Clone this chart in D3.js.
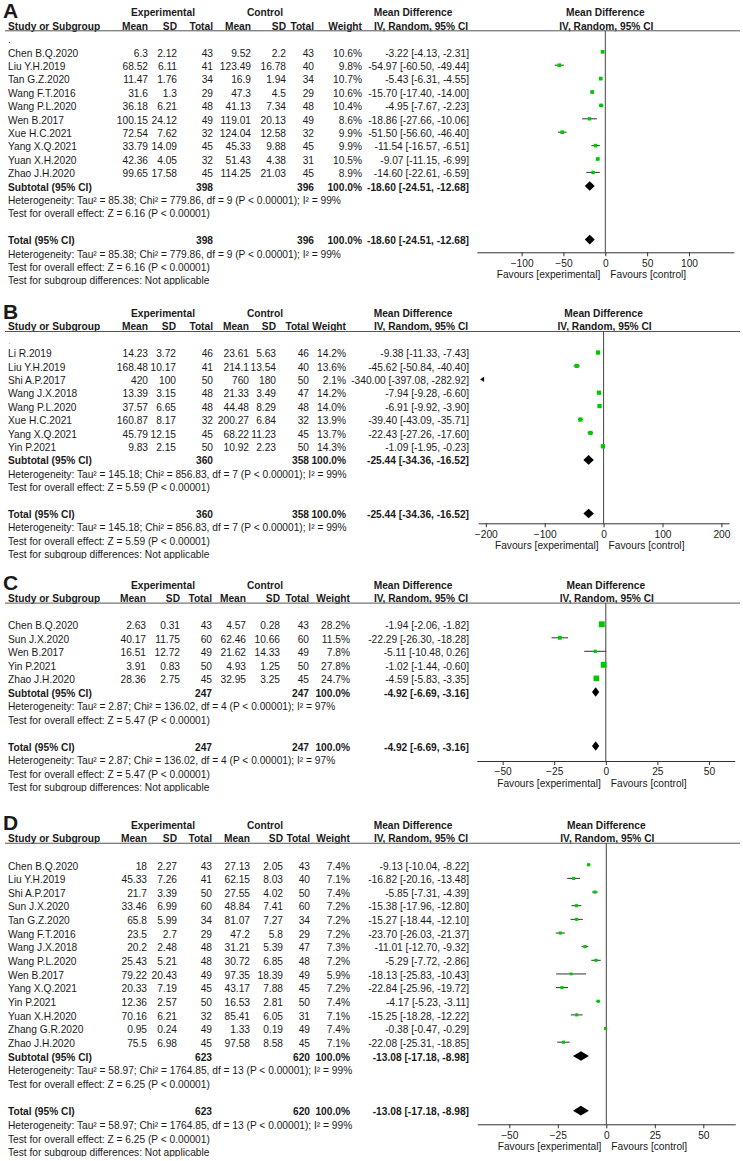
<!DOCTYPE html>
<html><head><meta charset="utf-8">
<script src="https://cdn.jsdelivr.net/npm/d3@7"></script>
<style>
body{margin:0;background:#fff}
svg{display:block}
text{font-family:"Liberation Sans",Arial,Helvetica,sans-serif;font-size:10.2px;fill:#1a1a1a}
</style>
</head><body>
<svg id="c" width="743" height="1161"></svg>
<script>
// ---------------- Panel A ----------------
const studiesA = ["Chen B.Q.2020","Liu Y.H.2019","Tan G.Z.2020","Wang F.T.2016","Wang P.L.2020","Wen B.2017","Xue H.C.2021","Yang X.Q.2021","Yuan X.H.2020","Zhao J.H.2020"];
const expMeanA = [6.3, 68.52, 11.47, 31.6, 36.18, 100.15, 72.54, 33.79, 42.36, 99.65];
const expSdA   = [2.12, 6.11, 1.76, 1.3, 6.21, 24.12, 7.62, 14.09, 4.05, 17.58];
const expNA    = [43, 41, 34, 29, 48, 49, 32, 45, 32, 45];
const ctlMeanA = [9.52, 123.49, 16.9, 47.3, 41.13, 119.01, 124.04, 45.33, 51.43, 114.25];
const ctlSdA   = [2.2, 16.78, 1.94, 4.5, 7.34, 20.13, 12.58, 9.88, 4.38, 21.03];
const ctlNA    = [43, 40, 34, 29, 48, 49, 32, 45, 31, 45];
const weightA  = [10.6, 9.8, 10.7, 10.6, 10.4, 8.6, 9.9, 9.9, 10.5, 8.9];
const mdA      = [-3.22, -54.97, -5.43, -15.70, -4.95, -18.86, -51.50, -11.54, -9.07, -14.60];
const loA      = [-4.13, -60.50, -6.31, -17.40, -7.67, -27.66, -56.60, -16.57, -11.15, -22.61];
const hiA      = [-2.31, -49.44, -4.55, -14.00, -2.23, -10.06, -46.40, -6.51, -6.99, -6.59];
const ticksA   = [-100, -50, 0, 50, 100];

// ---------------- Panel B ----------------
const studiesB = ["Li R.2019","Liu Y.H.2019","Shi A.P.2017","Wang J.X.2018","Wang P.L.2020","Xue H.C.2021","Yang X.Q.2021","Yin P.2021"];
const expMeanB = [14.23, 168.48, 420, 13.39, 37.57, 160.87, 45.79, 9.83];
const expSdB   = [3.72, 10.17, 100, 3.15, 6.65, 8.17, 12.15, 2.15];
const expNB    = [46, 41, 50, 48, 48, 32, 45, 50];
const ctlMeanB = [23.61, 214.1, 760, 21.33, 44.48, 200.27, 68.22, 10.92];
const ctlSdB   = [5.63, 13.54, 180, 3.49, 8.29, 6.84, 11.23, 2.23];
const ctlNB    = [46, 40, 50, 47, 48, 32, 45, 50];
const weightB  = [14.2, 13.6, 2.1, 14.2, 14.0, 13.9, 13.7, 14.3];
const mdB      = [-9.38, -45.62, -340.00, -7.94, -6.91, -39.40, -22.43, -1.09];
const loB      = [-11.33, -50.84, -397.08, -9.28, -9.92, -43.09, -27.26, -1.95];
const hiB      = [-7.43, -40.40, -282.92, -6.60, -3.90, -35.71, -17.60, -0.23];
const ticksB   = [-200, -100, 0, 100, 200];

// ---------------- Panel C ----------------
const studiesC = ["Chen B.Q.2020","Sun J.X.2020","Wen B.2017","Yin P.2021","Zhao J.H.2020"];
const expMeanC = [2.63, 40.17, 16.51, 3.91, 28.36];
const expSdC   = [0.31, 11.75, 12.72, 0.83, 2.75];
const expNC    = [43, 60, 49, 50, 45];
const ctlMeanC = [4.57, 62.46, 21.62, 4.93, 32.95];
const ctlSdC   = [0.28, 10.66, 14.33, 1.25, 3.25];
const ctlNC    = [43, 60, 49, 50, 45];
const weightC  = [28.2, 11.5, 7.8, 27.8, 24.7];
const mdC      = [-1.94, -22.29, -5.11, -1.02, -4.59];
const loC      = [-2.06, -26.30, -10.48, -1.44, -5.83];
const hiC      = [-1.82, -18.28, 0.26, -0.60, -3.35];
const ticksC   = [-50, -25, 0, 25, 50];

// ---------------- Panel D ----------------
const studiesD = ["Chen B.Q.2020","Liu Y.H.2019","Shi A.P.2017","Sun J.X.2020","Tan G.Z.2020","Wang F.T.2016","Wang J.X.2018","Wang P.L.2020","Wen B.2017","Yang X.Q.2021","Yin P.2021","Yuan X.H.2020","Zhang G.R.2020","Zhao J.H.2020"];
const expMeanD = [18, 45.33, 21.7, 33.46, 65.8, 23.5, 20.2, 25.43, 79.22, 20.33, 12.36, 70.16, 0.95, 75.5];
const expSdD   = [2.27, 7.26, 3.39, 6.99, 5.99, 2.7, 2.48, 5.21, 20.43, 7.19, 2.57, 6.21, 0.24, 6.98];
const expND    = [43, 41, 50, 60, 34, 29, 48, 48, 49, 45, 50, 32, 49, 45];
const ctlMeanD = [27.13, 62.15, 27.55, 48.84, 81.07, 47.2, 31.21, 30.72, 97.35, 43.17, 16.53, 85.41, 1.33, 97.58];
const ctlSdD   = [2.05, 8.03, 4.02, 7.41, 7.27, 5.8, 5.39, 6.85, 18.39, 7.88, 2.81, 6.05, 0.19, 8.58];
const ctlND    = [43, 40, 50, 60, 34, 29, 47, 48, 49, 45, 50, 31, 49, 45];
const weightD  = [7.4, 7.1, 7.4, 7.2, 7.2, 7.2, 7.3, 7.2, 5.9, 7.2, 7.4, 7.1, 7.4, 7.1];
const mdD      = [-9.13, -16.82, -5.85, -15.38, -15.27, -23.70, -11.01, -5.29, -18.13, -22.84, -4.17, -15.25, -0.38, -22.08];
const loD      = [-10.04, -20.16, -7.31, -17.96, -18.44, -26.03, -12.70, -7.72, -25.83, -25.96, -5.23, -18.28, -0.47, -25.31];
const hiD      = [-8.22, -13.48, -4.39, -12.80, -12.10, -21.37, -9.32, -2.86, -10.43, -19.72, -3.11, -12.22, -0.29, -18.85];
const ticksD   = [-50, -25, 0, 25, 50];

// ---------------- Pooled results (A, B, C, D) ----------------
const panelLabels = ["A", "B", "C", "D"];
const pooledMd  = [-18.60, -25.44, -4.92, -13.08];
const pooledLo  = [-24.51, -34.36, -6.69, -17.18];
const pooledHi  = [-12.68, -16.52, -3.16, -8.98];
const totalExp  = [398, 360, 247, 623];
const totalCtl  = [396, 358, 247, 620];
const tauSq     = [85.38, 145.18, 2.87, 58.97];
const chiSq     = [779.86, 856.83, 136.02, 1764.85];
const dfs       = [9, 7, 4, 13];
const iSq       = [99, 99, 97, 99];
const zVal      = [6.16, 5.59, 5.47, 6.25];

// ---------------- Build panels ----------------
const panels = [
  {s:studiesA, em:expMeanA, es:expSdA, en:expNA, cm:ctlMeanA, cs:ctlSdA, cn:ctlNA, w:weightA, md:mdA, lo:loA, hi:hiA, ticks:ticksA},
  {s:studiesB, em:expMeanB, es:expSdB, en:expNB, cm:ctlMeanB, cs:ctlSdB, cn:ctlNB, w:weightB, md:mdB, lo:loB, hi:hiB, ticks:ticksB},
  {s:studiesC, em:expMeanC, es:expSdC, en:expNC, cm:ctlMeanC, cs:ctlSdC, cn:ctlNC, w:weightC, md:mdC, lo:loC, hi:hiC, ticks:ticksC},
  {s:studiesD, em:expMeanD, es:expSdD, en:expND, cm:ctlMeanD, cs:ctlSdD, cn:ctlND, w:weightD, md:mdD, lo:loD, hi:hiD, ticks:ticksD}
];
// layout (positions only)
const layouts = [
  {top:12.8,  sp:13.4,  axisY:252.3,  zero:605.3, half:128.5, ppu:0.8367, cols:[148,177,213,251,286,314,362], dot:"#222"},
  {top:313.5, sp:13.4,  axisY:523.3,  zero:603.6, half:125.5, ppu:0.589,  cols:[148,176,213,249,276,309,346], dot:"#bbb"},
  {top:585,   sp:13.5,  axisY:761,    zero:605.8, half:129,   ppu:2.063,  cols:[146,180,212,246,280,309,350], dot:null},
  {top:825,   sp:13.65, axisY:1124.3, zero:606.3, half:129,   ppu:1.94,   cols:[147,177,212,250,283,310,350], dot:null}
];

const W = 743;
const svg = d3.select("#c");
const GREEN = "#00c800";
const INK = "#1a1a1a";
const ciRight = 469;

function ciStr(m, l, h) { return `${m.toFixed(2)} [${l.toFixed(2)}, ${h.toFixed(2)}]`; }

function txt(g, x, y, s, anchor, bold) {
  return g.append("text").attr("x", x).attr("y", y).attr("dy", "0.35em")
    .attr("text-anchor", anchor || "start")
    .style("font-weight", bold ? "bold" : "normal")
    .text(s);
}

panels.forEach((p, i) => {
  const L = layouts[i];
  const n = p.s.length;
  const rowY = k => L.top + k * L.sp;
  const subK = 3 + n, totK = subK + 4, sgK = totK + 3;
  const clipId = "clip" + i;
  svg.append("clipPath").attr("id", clipId).append("rect")
    .attr("x", 0).attr("y", L.top - 14).attr("width", W)
    .attr("height", rowY(sgK) + 4.2 - (L.top - 14));
  const g = svg.append("g").attr("clip-path", `url(#${clipId})`);
  const c = L.cols;

  // panel label
  g.append("text").attr("x", 3).attr("y", L.top + 5)
    .style("font-size", "21px").style("font-weight", "bold").text(panelLabels[i]);

  // header row 1
  const h1 = rowY(0);
  txt(g, 163, h1, "Experimental", "middle", true);
  txt(g, 265, h1, "Control", "middle", true);
  txt(g, 413, h1, "Mean Difference", "middle", true);
  txt(g, L.zero, h1, "Mean Difference", "middle", true);
  // header row 2
  const h2 = rowY(1);
  txt(g, 8, h2, "Study or Subgroup", "start", true);
  ["Mean", "SD", "Total", "Mean", "SD", "Total", "Weight"].forEach((t, j) => txt(g, c[j], h2, t, "end", true));
  txt(g, 421, h2, "IV, Random, 95% CI", "middle", true);
  txt(g, L.zero + 1, h2, "IV, Random, 95% CI", "middle", true);
  const ulY = h2 + 4.6;
  g.append("line").attr("x1", 5).attr("x2", 740).attr("y1", ulY).attr("y2", ulY)
    .attr("stroke", "#555").attr("stroke-width", 1);

  if (L.dot) {
    g.append("text").attr("x", 8).attr("y", rowY(2)).attr("dy", "0.35em")
      .style("fill", L.dot).text(".");
  }

  // scale
  const dom = L.half / L.ppu;
  const x = d3.scaleLinear().domain([-dom, dom]).range([L.zero - L.half, L.zero + L.half]);

  // zero line
  g.append("line").attr("x1", x(0)).attr("x2", x(0)).attr("y1", ulY).attr("y2", L.axisY)
    .attr("stroke", "#444").attr("stroke-width", 1);

  // study rows
  p.s.forEach((name, k) => {
    const y = rowY(3 + k);
    txt(g, 8, y, name);
    [p.em[k], p.es[k], p.en[k], p.cm[k], p.cs[k], p.cn[k]].forEach((v, j) => txt(g, c[j], y, String(v), "end"));
    txt(g, c[6], y, p.w[k].toFixed(1) + "%", "end");
    txt(g, ciRight, y, ciStr(p.md[k], p.lo[k], p.hi[k]), "end");

    const my = y - 1.2;
    const [d0, d1] = x.domain();
    if (p.hi[k] < d0) {
      // whole CI off the scale to the left: arrow
      const ax0 = x(d0) + 2;
      g.append("path").attr("d", `M${ax0},${my} L${ax0 + 4},${my - 2.6} L${ax0 + 4},${my + 2.6} Z`)
        .attr("fill", "#111");
    } else {
      const l = Math.max(p.lo[k], d0), h = Math.min(p.hi[k], d1);
      g.append("line").attr("x1", x(l)).attr("x2", x(h)).attr("y1", my).attr("y2", my)
        .attr("stroke", "#333").attr("stroke-width", 1);
      const side = 1.05 * Math.sqrt(p.w[k]) + 0.3;
      g.append("rect").attr("x", x(p.md[k]) - side / 2).attr("y", my - side / 2)
        .attr("width", side).attr("height", side).attr("fill", GREEN);
    }
  });

  // subtotal & total rows
  [subK, totK].forEach((k, j) => {
    const y = rowY(k);
    txt(g, 8, y, j === 0 ? "Subtotal (95% CI)" : "Total (95% CI)", "start", true);
    txt(g, c[2], y, String(totalExp[i]), "end", true);
    txt(g, c[5], y, String(totalCtl[i]), "end", true);
    txt(g, c[6], y, "100.0%", "end", true);
    txt(g, ciRight, y, ciStr(pooledMd[i], pooledLo[i], pooledHi[i]), "end", true);
    txt(g, 8, rowY(k + 1), `Heterogeneity: Tau\u00B2 = ${tauSq[i].toFixed(2)}; Chi\u00B2 = ${chiSq[i].toFixed(2)}, df = ${dfs[i]} (P < 0.00001); I\u00B2 = ${iSq[i]}%`);
    txt(g, 8, rowY(k + 2), `Test for overall effect: Z = ${zVal[i].toFixed(2)} (P < 0.00001)`);
    const dy = y - 1;
    g.append("path")
      .attr("d", `M${x(pooledLo[i])},${dy} L${x(pooledMd[i])},${dy - 4.8} L${x(pooledHi[i])},${dy} L${x(pooledMd[i])},${dy + 4.8} Z`)
      .attr("fill", "#000");
  });
  txt(g, 8, rowY(sgK), "Test for subgroup differences: Not applicable");

  // axis
  const axis = g.append("g").attr("transform", `translate(0,${L.axisY})`)
    .call(d3.axisBottom(x).tickValues(p.ticks).tickSize(4).tickSizeOuter(0).tickPadding(3));
  axis.attr("font-size", null).attr("font-family", null);
  axis.select(".domain").attr("stroke", "#333");
  axis.selectAll(".tick line").attr("stroke", "#333");
  axis.selectAll(".tick text").attr("fill", INK);

  const fy = L.axisY + 22.5;
  txt(g, x(0) - 5, fy, "Favours [experimental]", "end");
  txt(g, x(0) + 5, fy, "Favours [control]", "start");
});
</script>
</body></html>
